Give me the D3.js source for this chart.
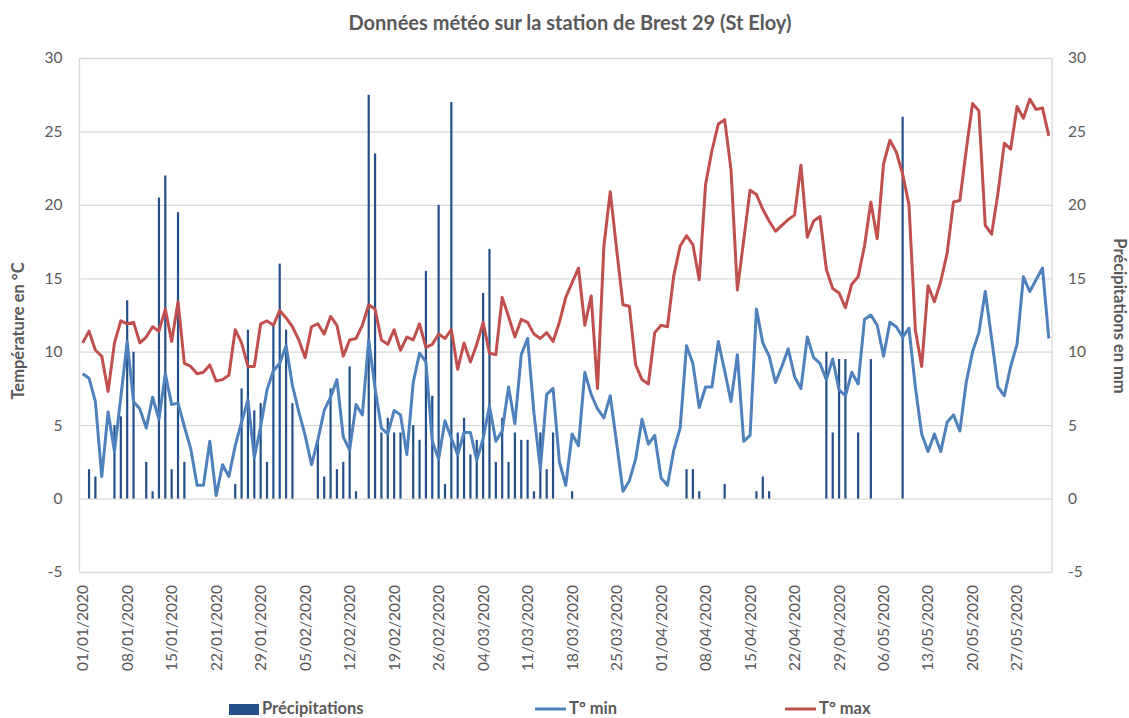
<!DOCTYPE html>
<html><head><meta charset="utf-8">
<script src="https://cdn.jsdelivr.net/npm/d3@7"></script>
<style>
body{margin:0;background:#fff;}
svg{display:block;font-family:Lato,"Open Sans",sans-serif;}
</style></head>
<body><svg id="c" width="1129" height="718"></svg>
<script>
const startDate = new Date(2020,0,1);
const endDate = new Date(2020,5,2);
const tmin = [8.5,8.2,6.6,1.5,5.9,3.2,6.9,10.7,6.6,6.1,4.8,6.9,5.4,8.5,6.4,6.5,4.9,3.4,0.9,0.9,3.9,0.2,2.3,1.5,3.6,5.2,6.7,2.8,4.9,7.4,8.7,9.2,10.4,7.7,5.9,4.3,2.3,4.0,6.0,6.9,8.1,4.2,3.3,6.4,5.7,10.8,7.5,4.8,4.4,6.0,5.7,3.0,7.9,9.9,9.3,3.9,2.7,5.3,4.1,3.0,4.5,4.5,2.6,4.1,6.3,3.9,4.6,7.6,5.1,9.8,10.9,5.8,2.0,7.1,7.5,2.5,0.9,4.4,3.6,8.6,7.1,6.1,5.5,7.0,3.8,0.5,1.2,2.7,5.4,3.7,4.3,1.4,0.9,3.3,4.8,10.4,9.2,6.2,7.6,7.6,10.7,8.7,6.6,9.8,3.9,4.3,12.9,10.6,9.7,7.9,9.0,10.2,8.3,7.5,11.0,9.6,9.2,8.1,9.5,7.4,7.0,8.6,7.8,12.2,12.5,11.8,9.7,12.0,11.7,11.0,11.6,7.6,4.4,3.2,4.4,3.2,5.2,5.7,4.6,7.9,10.0,11.3,14.1,10.9,7.6,7.0,9.0,10.5,15.1,14.1,14.9,15.7,10.9];
const tmax = [10.6,11.4,10.1,9.7,7.3,10.6,12.1,11.9,12.0,10.6,11.0,11.7,11.4,12.9,10.7,13.4,9.2,9.0,8.5,8.6,9.1,8.0,8.1,8.4,11.5,10.6,9.0,9.0,11.9,12.1,11.8,12.8,12.3,11.7,10.8,9.6,11.7,11.9,11.2,12.4,11.8,9.7,10.8,10.9,11.8,13.2,12.9,10.8,10.5,11.5,10.1,11.0,10.8,11.9,10.3,10.5,11.2,10.9,11.5,8.8,10.6,9.3,10.5,12.0,9.9,9.8,13.7,12.4,11.0,12.2,12.0,11.2,10.9,11.3,10.7,12.0,13.7,14.7,15.7,11.8,13.8,7.5,17.2,20.9,17.0,13.2,13.1,9.1,8.1,7.8,11.3,11.8,11.7,15.2,17.2,17.9,17.3,14.9,21.4,23.7,25.5,25.8,22.4,14.2,17.6,21.0,20.7,19.7,18.9,18.2,18.6,19.0,19.3,22.7,17.8,18.9,19.2,15.6,14.3,14.0,13.0,14.6,15.1,17.2,20.2,17.7,22.8,24.4,23.6,22.1,20.0,11.5,9.0,14.5,13.4,14.8,16.7,20.2,20.3,23.7,26.9,26.4,18.6,18.0,20.8,24.2,23.8,26.7,25.9,27.2,26.5,26.6,24.7];
// one row per week (7 days)
const precip = [
  0,2.0,1.5,0,0,5.0,5.6,
  13.5,10.0,0,2.5,0.5,20.5,22.0,
  2.0,19.5,2.5,0,0,0,0,
  0,0,0,1.0,7.5,11.5,6.0,
  6.5,2.5,11.8,16.0,11.5,6.5,0,
  0,0,4.0,1.5,7.5,2.0,2.5,
  9.0,0.5,0,27.5,23.5,4.5,5.5,
  4.5,4.5,0,5.0,4.0,15.5,7.0,
  20.0,1.0,27.0,4.5,5.5,3.0,4.0,
  14.0,17.0,2.5,5.5,2.5,4.5,4.0,
  4.0,0.5,4.5,2.0,4.5,0,0,
  0.5,0,0,0,0,0,0,
  0,0,0,0,0,0,0,
  0,0,0,0,2.0,2.0,0.5,
  0,0,0,1.0,0,0,0,
  0,0.5,1.5,0.5,0,0,0,
  0,0,0,0,0,10.0,4.5,
  9.5,9.5,0,4.5,0,9.5,0,
  0,0,0,26.0,0,0,0,
  0,0,0,0,0,0,0,
  0,0,0,0,0,0,0,
  0,0,0,0,0,0
];
const yTicks = [-5,0,5,10,15,20,25,30];
const seriesNames = ["Précipitations","T° min","T° max"];
const titleText = "Données météo sur la station de Brest 29 (St Eloy)";
const leftTitle = "Température en °C";
const rightTitle = "Précipitations en mm";

const fmt = d3.timeFormat("%d/%m/%Y");
const dates = d3.timeDay.range(startDate, endDate).map(fmt);
const tickLabels = dates.filter((d,i)=> i%7===0);
const yFmt = v => String(v);

const svg = d3.select("#c");
const L=79.5, R=1052, T=58, B=572;
const x = d3.scaleBand().domain(dates).range([L,R]).padding(0);
const bw = x.bandwidth();
const cx = d => x(d)+bw/2;
const yL = d3.scaleLinear().domain([-5,30]).range([B,T]);
const yR = d3.scaleLinear().domain([-5,30]).range([B,T]);
const grey = "#595959";

// gridlines
svg.append("g").attr("transform",`translate(${L},0)`)
  .call(d3.axisLeft(yL).tickValues(yTicks).tickSize(-(R-L)).tickFormat(""))
  .call(g=>g.select(".domain").remove())
  .call(g=>g.selectAll("line").attr("stroke","#d9d9d9").attr("stroke-width",1.3));
svg.append("line").attr("x1",L).attr("x2",L).attr("y1",T).attr("y2",B).attr("stroke","#d9d9d9").attr("stroke-width",1.3);
svg.append("line").attr("x1",R).attr("x2",R).attr("y1",T).attr("y2",B).attr("stroke","#d9d9d9").attr("stroke-width",1.3);

// left axis labels
svg.append("g").attr("transform",`translate(${L},0)`)
  .call(d3.axisLeft(yL).tickValues(yTicks).tickFormat(yFmt).tickSize(0).tickPadding(17))
  .call(g=>g.select(".domain").remove())
  .call(g=>g.selectAll("text").attr("fill",grey).attr("font-size",15.5).attr("font-family","Lato"));
// right axis labels
svg.append("g").attr("transform",`translate(${R},0)`)
  .call(d3.axisRight(yR).tickValues(yTicks).tickFormat(yFmt).tickSize(0).tickPadding(16))
  .call(g=>g.select(".domain").remove())
  .call(g=>g.selectAll("text").attr("fill",grey).attr("font-size",15.5).attr("font-family","Lato"));

// x axis labels
const xa = svg.append("g").attr("transform",`translate(0,${B})`)
  .call(d3.axisBottom(x).tickValues(tickLabels).tickSize(0).tickPadding(0));
xa.select(".domain").remove();
xa.selectAll("text").attr("fill",grey).attr("font-size",15.5).attr("font-family","Lato")
  .attr("text-anchor","end").attr("transform","rotate(-90)")
  .attr("x",-13).attr("y",0).attr("dy","0.35em");

// bars
svg.append("g").selectAll("rect").data(dates.map((d,i)=>({d,v:precip[i]||0})).filter(o=>o.v>0))
  .join("rect")
  .attr("x",o=>cx(o.d)-1.1).attr("width",2.2)
  .attr("y",o=>yR(o.v)).attr("height",o=>yR(0)-yR(o.v))
  .attr("fill","#24508a");

// lines
const line = arr => d3.line().x((v,i)=>cx(dates[i])).y(v=>yL(v))(arr);
svg.append("path").attr("d",line(tmin)).attr("fill","none").attr("stroke","#4F81BD").attr("stroke-width",3).attr("stroke-linejoin","round");
svg.append("path").attr("d",line(tmax)).attr("fill","none").attr("stroke","#C0504D").attr("stroke-width",3).attr("stroke-linejoin","round");

// title
svg.append("text").attr("x",570).attr("y",30).attr("text-anchor","middle")
  .attr("font-size",20).attr("font-weight","bold").attr("fill",grey).text(titleText);
// axis titles
svg.append("text").attr("transform","translate(24,331) rotate(-90)").attr("text-anchor","middle")
  .attr("font-size",16.5).attr("font-weight","bold").attr("fill",grey).text(leftTitle);
svg.append("text").attr("transform","translate(1114,316) rotate(90)").attr("text-anchor","middle")
  .attr("font-size",16.5).attr("font-weight","bold").attr("fill",grey).text(rightTitle);

// legend
const lg = svg.append("g").attr("font-size",16.5).attr("font-weight","bold").attr("fill",grey);
lg.append("rect").attr("x",229).attr("y",704).attr("width",30).attr("height",11).attr("fill","#24508a");
lg.append("text").attr("x",262).attr("y",713.5).text(seriesNames[0]);
lg.append("line").attr("x1",535).attr("x2",566).attr("y1",709).attr("y2",709).attr("stroke","#4F81BD").attr("stroke-width",3);
lg.append("text").attr("x",569).attr("y",713.5).text(seriesNames[1]);
lg.append("line").attr("x1",785).attr("x2",816).attr("y1",709).attr("y2",709).attr("stroke","#C0504D").attr("stroke-width",3);
lg.append("text").attr("x",819).attr("y",713.5).text(seriesNames[2]);
</script></body></html>
